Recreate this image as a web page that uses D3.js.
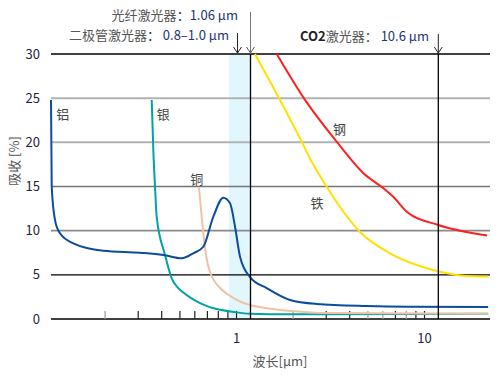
<!DOCTYPE html>
<html>
<head>
<meta charset="utf-8">
<script src="https://cdn.jsdelivr.net/npm/d3@7"></script>
<style>
  body { margin: 0; background: #fff; }
  text { font-family: "Noto Sans CJK SC", "Noto Sans", sans-serif; }
</style>
</head>
<body>
<svg id="chart" width="498" height="383"></svg>
<script>
// wavelength [µm] / absorption [%]
var aluminium = [[0.1031, 24.8], [0.104, 15.0], [0.1083, 11.2], [0.1151, 9.7], [0.1355, 8.57],
  [0.1956, 7.73], [0.3067, 7.5], [0.408, 7.25], [0.511, 6.87], [0.589, 7.44], [0.666, 8.18],
  [0.753, 11.58], [0.851, 13.73], [0.924, 13.1], [0.982, 10.45], [1.044, 7.05], [1.18, 4.75],
  [1.447, 3.5], [1.926, 2.15], [2.67, 1.7], [4.93, 1.47], [9.09, 1.39], [21.8, 1.36]];
var silver = [[0.354, 24.8], [0.361, 19.1], [0.3686, 15.0], [0.376, 11.6], [0.4166, 7.25],
  [0.452, 4.6], [0.49, 3.5], [0.521, 3.0], [0.566, 2.45], [0.64, 1.8], [0.72, 1.35],
  [0.82, 1.05], [1.0, 0.75], [1.18, 0.6], [1.5, 0.55], [3.0, 0.55], [21.8, 0.6]];
var copper = [[0.632, 14.86], [0.6475, 12.34], [0.6676, 9.51], [0.6925, 6.91], [0.7228, 5.32],
  [0.7592, 4.36], [0.8172, 3.51], [0.9012, 2.77], [1.044, 1.98], [1.18, 1.58], [1.447, 1.21],
  [2.177, 0.83], [3.02, 0.68], [21.8, 0.6]];
var steel = [[1.636, 30], [2.314, 24.8], [3.41, 20.07], [4.73, 16.5], [6.04, 14.8], [6.82, 13.84],
  [8.04, 12.15], [11.84, 10.64], [21.5, 9.45]];
var iron = [[1.254, 30], [1.703, 24.8], [2.223, 20.07], [2.49, 17.94], [2.781, 16.19],
  [3.143, 14.38], [3.552, 12.68], [4.54, 9.85], [6.55, 7.44], [9.09, 6.11], [12.09, 5.35],
  [16.09, 4.9], [21.85, 4.81]];

var curveNames = ["铝", "银", "铜", "钢", "铁"];
var curveLabelPos = [[0.119, 22.6], [0.408, 22.6], [0.614, 15.3], [3.53, 21.0], [2.68, 12.57]];

var yTicks = [0, 5, 10, 15, 20, 25, 30];
var xTicks = [1, 10];
var xMinor = [0.2, 0.3, 0.4, 0.5, 0.6, 0.7, 0.8, 0.9, 2, 3, 4, 5, 6, 7, 8, 9];

var fiberLine = 1.187, diodeArrow = 1.012, co2Line = 11.84;
var diodeBand = [0.912, 1.187];

var svg = d3.select("#chart");

var x = d3.scaleLog().domain([0.1031, 22.3]).range([51, 490]);
var y = d3.scaleLinear().domain([0, 30]).range([319, 54]);

// band for lasers
svg.append("rect")
  .attr("x", x(diodeBand[0])).attr("y", y(30))
  .attr("width", x(diodeBand[1]) - x(diodeBand[0]))
  .attr("height", y(0) - y(30))
  .attr("fill", "#e2f7fd");

// grid lines
var gridColor = { 0: "#000", 5: "#000", 10: "#8a8a8a", 15: "#767676", 20: "#b2b2b2", 25: "#b2b2b2", 30: "#000" };
var gridWidth = { 0: 1.3, 5: 1.3, 10: 1.6, 15: 1.3, 20: 2, 25: 2, 30: 1.3 };
svg.append("g").selectAll("line")
  .data(yTicks)
  .enter().append("line")
  .attr("x1", 51).attr("x2", 490)
  .attr("y1", function(d) { return y(d); })
  .attr("y2", function(d) { return y(d); })
  .attr("stroke", function(d) { return gridColor[d]; })
  .attr("stroke-width", function(d) { return gridWidth[d]; });

// minor ticks along the bottom
svg.append("g").selectAll("line")
  .data(xMinor.concat(xTicks))
  .enter().append("line")
  .attr("x1", function(d) { return x(d); })
  .attr("x2", function(d) { return x(d); })
  .attr("y1", y(0)).attr("y2", y(0) - 8)
  .attr("stroke", function(d) { return (d == 2 || d == 5 || d == 6 || d == 8 || d == 0.2) ? "#999" : "#222"; })
  .attr("stroke-width", 1.2);

// y tick labels
svg.append("g").selectAll("text")
  .data(yTicks)
  .enter().append("text")
  .attr("x", 40)
  .attr("y", function(d) { return y(d) + 4.5; })
  .attr("text-anchor", "end")
  .attr("font-size", 13)
  .attr("fill", "#1c2440")
  .text(function(d) { return d; });

// x tick labels
svg.append("g").selectAll("text")
  .data(xTicks)
  .enter().append("text")
  .attr("x", function(d) { return x(d); })
  .attr("y", 343)
  .attr("text-anchor", "middle")
  .attr("font-size", 13)
  .attr("fill", "#1c2440")
  .text(function(d) { return d; });

// axis titles
svg.append("text")
  .attr("x", 280).attr("y", 366)
  .attr("text-anchor", "middle")
  .attr("font-size", 13)
  .attr("fill", "#555")
  .text("波长[µm]");

svg.append("text")
  .attr("transform", "translate(19,161) rotate(-90)")
  .attr("text-anchor", "middle")
  .attr("font-size", 13)
  .attr("fill", "#555")
  .text("吸收 [%]");

// curves
var line = d3.line()
  .x(function(d) { return x(d[0]); })
  .y(function(d) { return y(d[1]); })
  .curve(d3.curveMonotoneX);

var curves = [
  { data: silver, color: "#00a3a3" },
  { data: copper, color: "#eec3a5" },
  { data: aluminium, color: "#0b4c9c" },
  { data: iron, color: "#ffe100" },
  { data: steel, color: "#ff2020" }
];

svg.append("g").selectAll("path")
  .data(curves)
  .enter().append("path")
  .attr("d", function(d) { return line(d.data); })
  .attr("fill", "none")
  .attr("stroke", function(d) { return d.color; })
  .attr("stroke-width", 2);

// curve labels
svg.append("g").selectAll("text")
  .data(curveNames)
  .enter().append("text")
  .attr("x", function(d, i) { return x(curveLabelPos[i][0]); })
  .attr("y", function(d, i) { return y(curveLabelPos[i][1]); })
  .attr("text-anchor", "middle")
  .attr("font-size", 13)
  .attr("fill", "#444")
  .text(function(d) { return d; });

// laser markers
function arrowHead(xp, yp, color) {
  svg.append("path")
    .attr("d", "M" + (xp - 4) + "," + (yp - 6) + "L" + xp + "," + yp + "L" + (xp + 4) + "," + (yp - 6))
    .attr("fill", "none")
    .attr("stroke", color)
    .attr("stroke-width", 1);
}

svg.append("line")
  .attr("x1", x(fiberLine)).attr("x2", x(fiberLine))
  .attr("y1", 12).attr("y2", y(30))
  .attr("stroke", "#777").attr("stroke-width", 1);
svg.append("line")
  .attr("x1", x(fiberLine)).attr("x2", x(fiberLine))
  .attr("y1", y(30)).attr("y2", y(0))
  .attr("stroke", "#000").attr("stroke-width", 1.3);
arrowHead(x(fiberLine), y(30) - 1, "#555");

svg.append("line")
  .attr("x1", x(diodeArrow)).attr("x2", x(diodeArrow))
  .attr("y1", 33).attr("y2", y(30) - 1)
  .attr("stroke", "#222").attr("stroke-width", 1);
arrowHead(x(diodeArrow), y(30) - 1, "#222");

svg.append("line")
  .attr("x1", x(co2Line)).attr("x2", x(co2Line))
  .attr("y1", 34).attr("y2", y(30))
  .attr("stroke", "#222").attr("stroke-width", 1);
svg.append("line")
  .attr("x1", x(co2Line)).attr("x2", x(co2Line))
  .attr("y1", y(30)).attr("y2", y(0))
  .attr("stroke", "#000").attr("stroke-width", 1.3);
arrowHead(x(co2Line), y(30) - 1, "#222");

// laser annotations
var notes = [
  { x: 238, y: 20, anchor: "end", parts: [["光纤激光器", "#555", "normal"], ["：1.06 µm", "#1b3470", "normal"]] },
  { x: 229, y: 40, anchor: "end", parts: [["二极管激光器", "#555", "normal"], ["： 0.8–1.0 µm", "#1b3470", "normal"]] },
  { x: 300, y: 41, anchor: "start", parts: [["CO2", "#222", "bold"], ["激光器：", "#555", "normal"], [" 10.6 µm", "#1b3470", "normal"]] }
];

notes.forEach(function(n) {
  var t = svg.append("text")
    .attr("x", n.x).attr("y", n.y)
    .attr("text-anchor", n.anchor)
    .attr("font-size", 13);
  n.parts.forEach(function(p) {
    t.append("tspan")
      .attr("fill", p[1])
      .attr("font-weight", p[2])
      .text(p[0]);
  });
});
</script>
</body>
</html>
